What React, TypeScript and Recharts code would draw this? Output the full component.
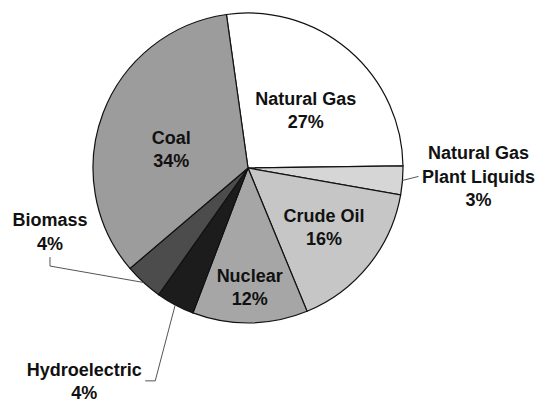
import { Cell, Pie, PieChart } from "recharts";

const sources = ["Natural Gas", "Natural Gas Plant Liquids", "Crude Oil", "Nuclear", "Hydroelectric", "Biomass", "Coal"];
const shares = [27, 3, 16, 12, 4, 4, 34];
const fills = ["#ffffff", "#d6d6d6", "#c6c6c6", "#a6a6a6", "#1c1c1c", "#4c4c4c", "#9c9c9c"];

const data = sources.map((name, i) => ({ name, value: shares[i] }));

const RAD = Math.PI / 180;
const FONT = { fontFamily: "'Liberation Sans', Arial, sans-serif", fontWeight: 700, fontSize: 18, fill: "#111" };

// inside labels: radius factor + angle nudge; outside labels: leader offsets from the slice edge
const insideLayout: Record<string, { k: number; da: number }> = {
  "Natural Gas": { k: 0.53, da: -4 },
  Coal: { k: 0.51, da: 7 },
  "Crude Oil": { k: 0.62, da: 1 },
  Nuclear: { k: 0.765, da: 0 },
};

const outsideLayout: Record<string, { lead: [number, number][]; tx: number; ty: number; lines: string[] }> = {
  "Natural Gas Plant Liquids": { lead: [[16, -4]], tx: 76, ty: -21, lines: ["Natural Gas", "Plant Liquids"] },
  Biomass: { lead: [[-93.5, -16.4], [-93.5, -25.4]], tx: -93.5, ty: -56.4, lines: ["Biomass"] },
  Hydroelectric: { lead: [[-20, 76], [-30, 76]], tx: -91, ty: 71, lines: ["Hydroelectric"] },
};

function renderLabel(props: any) {
  const { cx, cy, midAngle, outerRadius, name, value } = props;
  const pct = `${value}%`;
  const inside = insideLayout[name];
  if (inside) {
    const a = (midAngle + inside.da) * RAD;
    const r = outerRadius * inside.k;
    const x = cx + r * Math.cos(a);
    const y = cy - r * Math.sin(a);
    return (
      <g>
        <text x={x} y={y - 5} textAnchor="middle" style={FONT}>{name}</text>
        <text x={x} y={y + 18} textAnchor="middle" style={FONT}>{pct}</text>
      </g>
    );
  }
  const out = outsideLayout[name];
  if (!out) return null;
  const ex = cx + outerRadius * Math.cos(midAngle * RAD);
  const ey = cy - outerRadius * Math.sin(midAngle * RAD);
  const pts = [[ex, ey], ...out.lead.map(([dx, dy]) => [ex + dx, ey + dy])].map((p) => p.join(",")).join(" ");
  const lines = [...out.lines, pct];
  return (
    <g>
      <polyline points={pts} fill="none" stroke="#555" strokeWidth={1} />
      {lines.map((line, i) => (
        <text key={i} x={ex + out.tx} y={ey + out.ty + i * 23.5} textAnchor="middle" style={FONT}>{line}</text>
      ))}
    </g>
  );
}

export default function App() {
  return (
    <div style={{ position: "fixed", top: 0, left: 0, width: 538, height: 404, background: "#fff", overflow: "hidden" }}>
      <PieChart width={538} height={404} margin={{ top: 0, right: 0, bottom: 0, left: 0 }} style={{ overflow: "visible" }}>
        <Pie
          data={data}
          dataKey="value"
          nameKey="name"
          cx={248}
          cy={168}
          outerRadius={155}
          startAngle={98}
          endAngle={-262}
          stroke="#111"
          strokeWidth={1.2}
          label={renderLabel}
          labelLine={false}
          isAnimationActive={false}
        >
          {data.map((d, i) => (
            <Cell key={d.name} fill={fills[i]} />
          ))}
        </Pie>
      </PieChart>
    </div>
  );
}
